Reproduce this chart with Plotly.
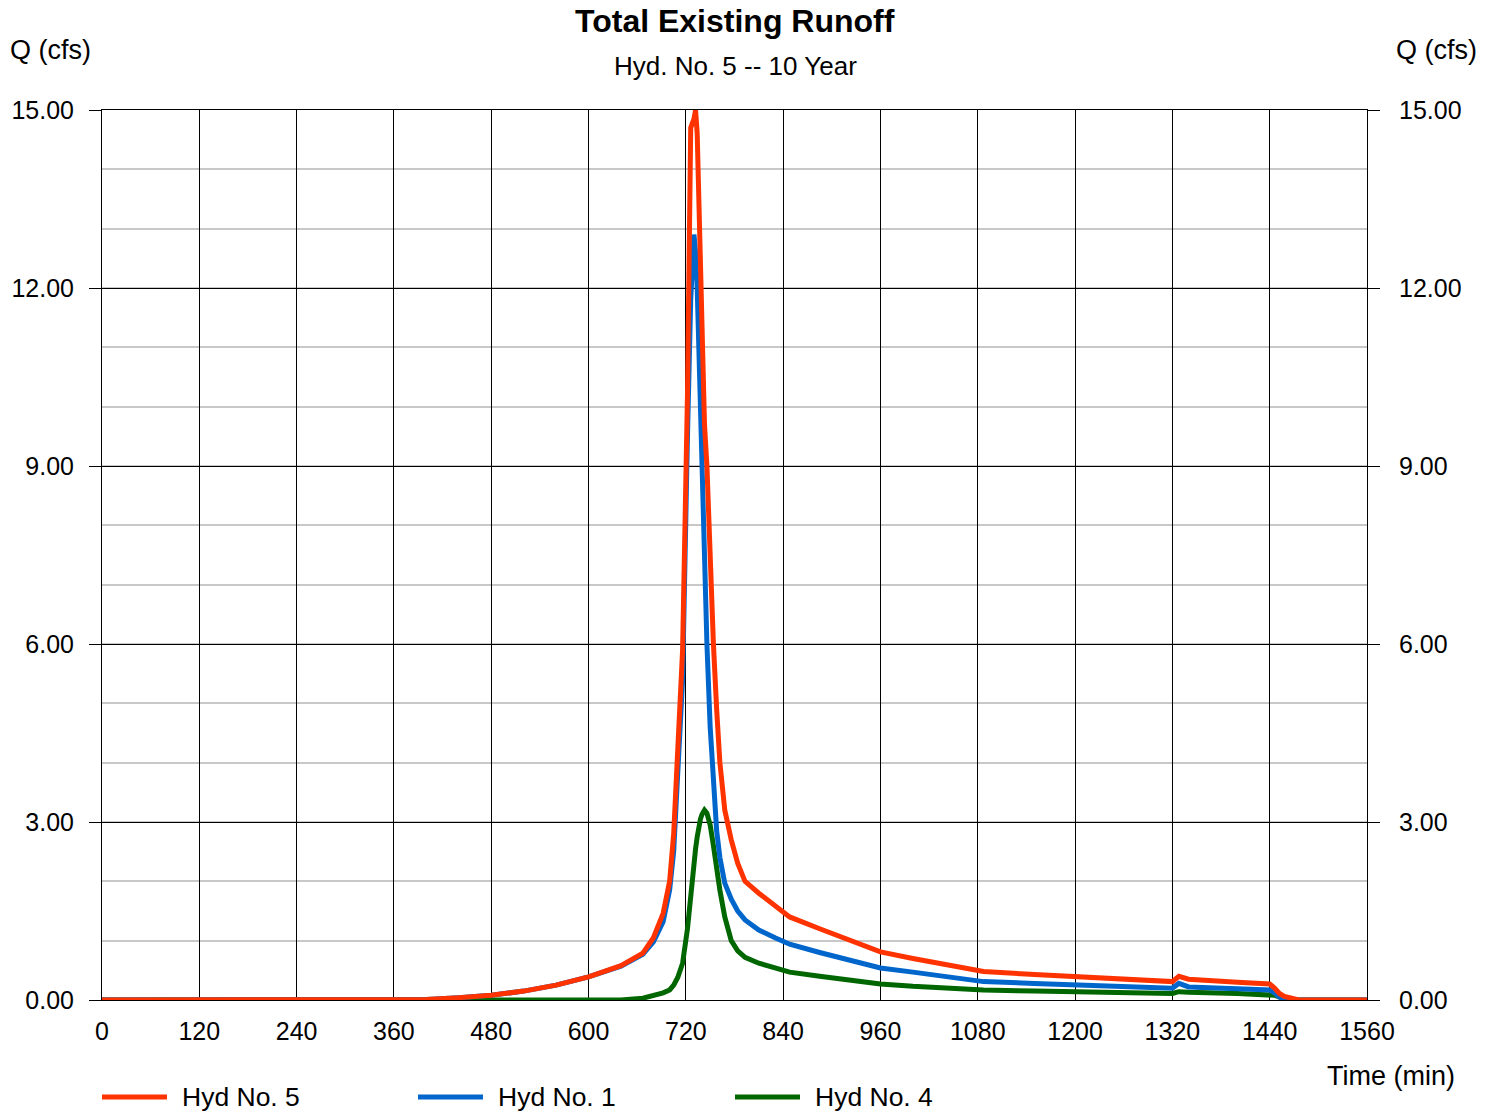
import plotly.graph_objects as go

# Runoff hydrographs (time in minutes, flow in cfs)
time_min = [0, 360, 400, 440, 480, 520, 560, 600, 640, 667, 680, 692, 700, 705, 710,
            716, 722, 726, 730, 732, 734, 736, 738, 740, 743, 746, 750, 754, 758, 762,
            768, 776, 784, 793, 810, 830, 848, 885, 920, 960, 1000, 1040, 1087, 1150,
            1200, 1260, 1320, 1328, 1340, 1400, 1440, 1446, 1452, 1458, 1466, 1476, 1560]

q_hyd5 = [0, 0, 0.01, 0.04, 0.08, 0.15, 0.25, 0.39, 0.58, 0.79, 1.05, 1.46, 2.0, 2.8, 4.2,
          5.9, 10.2, 14.7, 14.85, 15.0, 14.6, 13.5, 11.8, 10.6, 9.7, 9.0, 7.3, 6.0, 4.9, 4.0,
          3.2, 2.7, 2.3, 2.0, 1.8, 1.58, 1.40, 1.20, 1.01, 0.81, 0.70, 0.60, 0.48, 0.43,
          0.39, 0.35, 0.31, 0.40, 0.35, 0.30, 0.27, 0.20, 0.11, 0.06, 0.03, 0, 0]

q_hyd1 = [0, 0, 0.01, 0.04, 0.08, 0.15, 0.25, 0.39, 0.57, 0.77, 0.98, 1.32, 1.85, 2.5, 3.8,
          5.4, 9.5, 11.8, 12.9, 12.6, 12.0, 10.9, 9.6, 8.5, 7.2, 6.0, 4.6, 3.6, 2.85, 2.4,
          1.97, 1.70, 1.50, 1.35, 1.18, 1.05, 0.94, 0.80, 0.67, 0.54, 0.47, 0.40, 0.31, 0.28,
          0.26, 0.23, 0.20, 0.28, 0.22, 0.19, 0.17, 0.12, 0.05, 0.02, 0, 0, 0]

q_hyd4 = [0, 0, 0, 0, 0, 0, 0, 0, 0, 0.03, 0.07, 0.12, 0.17, 0.25, 0.38,
          0.62, 1.2, 1.8, 2.3, 2.55, 2.75, 2.95, 3.05, 3.13, 3.2, 3.15, 2.95, 2.6, 2.2, 1.85,
          1.40, 1.0, 0.83, 0.72, 0.62, 0.53, 0.47, 0.40, 0.33, 0.27, 0.23, 0.20, 0.17, 0.15,
          0.14, 0.125, 0.11, 0.14, 0.13, 0.11, 0.10, 0.08, 0.05, 0.02, 0, 0, 0]

series_names = ["Hyd No. 5", "Hyd No. 1", "Hyd No. 4"]
series_colors = ["#FF3300", "#0066CC", "#006600"]
series_values = [q_hyd5, q_hyd1, q_hyd4]

x_ticks = list(range(0, 1561, 120))
y_ticks = [0, 3, 6, 9, 12, 15]
y_tick_text = [f"{v:.2f}" for v in y_ticks]

W, H = 1496, 1112
L, R, T, B = 102, 1367, 110, 1000  # plot area in pixels

def px_x(x):
    return (x - L) / (R - L)

def px_y(y):
    return (B - y) / (B - T)

FONT = "Liberation Sans, Arial, sans-serif"

fig = go.Figure()

# draw back to front: Hyd 4, Hyd 1, Hyd 5
for name, color, vals in reversed(list(zip(series_names, series_colors, series_values))):
    fig.add_trace(go.Scatter(x=time_min, y=vals, mode="lines", name=name,
                             line=dict(color=color, width=5), showlegend=False))

# carrier trace for the right-hand flow axis
fig.add_trace(go.Scatter(x=[0], y=[0], yaxis="y2", mode="lines", showlegend=False,
                         hoverinfo="skip", line=dict(color="rgba(0,0,0,0)")))

fig.update_layout(
    width=W, height=H,
    margin=dict(l=L, r=W - R, t=T, b=H - B, autoexpand=False),
    paper_bgcolor="white", plot_bgcolor="white",
    font=dict(family=FONT, size=25, color="black"),
    xaxis=dict(range=[0, 1560], tickvals=x_ticks, ticks="", ticklabelstandoff=9,
               showgrid=True, gridcolor="black", gridwidth=1, automargin=False,
               showline=True, linecolor="black", linewidth=1, mirror=True,
               zeroline=False, tickfont=dict(size=25)),
    yaxis=dict(range=[0, 15], tickvals=y_ticks, ticktext=y_tick_text,
               ticks="outside", ticklen=12, tickcolor="black", tickwidth=1,
               ticklabelstandoff=10, automargin=False,
               showgrid=True, gridcolor="black", gridwidth=1,
               minor=dict(dtick=1, showgrid=True, gridcolor="#c8c8c8", gridwidth=2),
               showline=True, linecolor="black", linewidth=1, mirror=True,
               zeroline=False, tickfont=dict(size=25)),
    yaxis2=dict(range=[0, 15], tickvals=y_ticks, ticktext=y_tick_text,
                overlaying="y", side="right", ticks="outside", ticklen=12,
                tickcolor="black", tickwidth=1, ticklabelstandoff=14, automargin=False,
                showgrid=False, zeroline=False, tickfont=dict(size=25)),
)

annotations = [
    dict(text="<b>Total Existing Runoff</b>", x=px_x(735), y=px_y(21),
         xanchor="center", yanchor="middle", font=dict(size=32)),
    dict(text="Hyd. No. 5 -- 10 Year", x=px_x(735), y=px_y(66),
         xanchor="center", yanchor="middle", font=dict(size=26)),
    dict(text="Q (cfs)", x=px_x(8), y=px_y(50), xanchor="left", yanchor="middle",
         font=dict(size=27)),
    dict(text="Q (cfs)", x=px_x(1479), y=px_y(50), xanchor="right", yanchor="middle",
         font=dict(size=27)),
    dict(text="Time (min)", x=px_x(1457), y=px_y(1076), xanchor="right",
         yanchor="middle", font=dict(size=27)),
]

# legend row beneath the time axis
shapes = []
legend_x = [102, 418, 735]
for lx, name, color in zip(legend_x, series_names, series_colors):
    shapes.append(dict(type="line", xref="paper", yref="paper",
                       x0=px_x(lx), x1=px_x(lx + 65), y0=px_y(1097), y1=px_y(1097),
                       line=dict(color=color, width=5)))
    annotations.append(dict(text=name, x=px_x(lx + 78), y=px_y(1097),
                            xanchor="left", yanchor="middle", font=dict(size=26.5)))

for a in annotations:
    a.update(xref="paper", yref="paper", showarrow=False)

fig.update_layout(annotations=annotations, shapes=shapes)

fig.write_html("out.html")
